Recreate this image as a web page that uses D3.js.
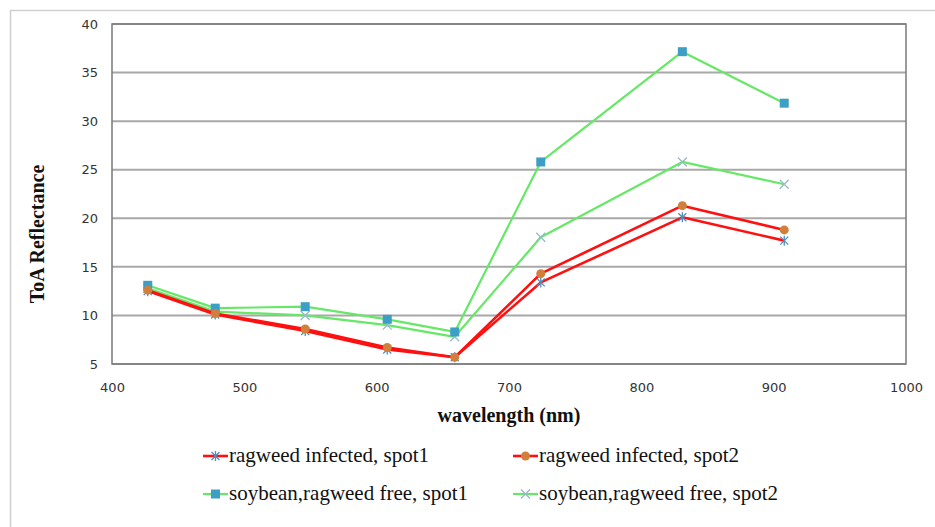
<!DOCTYPE html>
<html lang="en">
<head>
<meta charset="utf-8">
<script src="https://d3js.org/d3.v7.min.js"></script>
<style>
  body { margin: 0; background: #fff; }
  .tick text { font-family: 'DejaVu Sans', sans-serif; font-size: 13px; fill: #333; }
</style>
</head>
<body>
<div id="chart"></div>
<script>

// wavelength of each band (nm)
var wavelengths = [427, 478, 546, 608, 659, 724, 831, 908];

// ToA reflectance per series
var ragweedSpot1 = [12.5, 10.1, 8.4, 6.5, 5.7, 13.4, 20.1, 17.7];
var ragweedSpot2 = [12.6, 10.2, 8.6, 6.7, 5.7, 14.3, 21.3, 18.8];
var soySpot1     = [13.1, 10.75, 10.9, 9.6, 8.3, 25.8, 37.15, 31.85];
var soySpot2     = [12.8, 10.4, 10.0, 9.0, 7.8, 18.05, 25.8, 23.5];

var seriesNames = ['ragweed infected, spot1', 'ragweed infected, spot2',
                   'soybean,ragweed free, spot1', 'soybean,ragweed free, spot2'];

var xTicks = [400, 500, 600, 700, 800, 900, 1000];
var yTicks = [5, 10, 15, 20, 25, 30, 35, 40];

var width = 935, height = 527;
var plot = {left: 112, top: 24, right: 906, bottom: 364};
var serif = "'Liberation Serif', 'Times New Roman', serif";

var series = [
  {name: seriesNames[0], values: ragweedSpot1, line: '#ff1010', lw: 2.6, marker: 'star',   mcol: '#4f8fc0'},
  {name: seriesNames[1], values: ragweedSpot2, line: '#ff1010', lw: 2.6, marker: 'circle', mcol: '#d0803c'},
  {name: seriesNames[2], values: soySpot1,     line: '#66e866', lw: 2.2, marker: 'square', mcol: '#3e9fc6'},
  {name: seriesNames[3], values: soySpot2,     line: '#66e866', lw: 2.2, marker: 'cross',  mcol: '#9bb8cc'}
];

var x = d3.scaleLinear().domain([400, 1000]).range([plot.left, plot.right]);
var y = d3.scaleLinear().domain([5, 40]).range([plot.bottom, plot.top]);

var svg = d3.select('#chart').append('svg')
  .attr('width', width)
  .attr('height', height);

// outer chart border
svg.append('rect')
  .attr('x', 10.5).attr('y', 10.5)
  .attr('width', 940).attr('height', 540)
  .attr('fill', 'none')
  .attr('stroke', '#cfcfcf')
  .attr('stroke-width', 1.5);

// gridlines
svg.append('g')
  .selectAll('line')
  .data(yTicks)
  .enter().append('line')
  .attr('x1', plot.left).attr('x2', plot.right)
  .attr('y1', function(d) { return y(d); })
  .attr('y2', function(d) { return y(d); })
  .attr('stroke', '#a8a8a8')
  .attr('stroke-width', 2);

// plot frame
svg.append('rect')
  .attr('x', plot.left).attr('y', plot.top)
  .attr('width', plot.right - plot.left)
  .attr('height', plot.bottom - plot.top)
  .attr('fill', 'none')
  .attr('stroke', '#7a7a7a')
  .attr('stroke-width', 1.5);

// axes (labels only)
var xAxis = svg.append('g')
  .attr('transform', 'translate(0,' + plot.bottom + ')')
  .call(d3.axisBottom(x).tickValues(xTicks).tickFormat(d3.format('d')).tickSize(0).tickPadding(19));
xAxis.select('.domain').remove();

var yAxis = svg.append('g')
  .attr('transform', 'translate(' + plot.left + ',0)')
  .call(d3.axisLeft(y).tickValues(yTicks).tickSize(0).tickPadding(14));
yAxis.select('.domain').remove();

// axis titles
svg.append('text')
  .attr('x', (plot.left + plot.right) / 2)
  .attr('y', 422)
  .attr('text-anchor', 'middle')
  .attr('font-family', serif)
  .attr('font-weight', 'bold')
  .attr('font-size', 20)
  .attr('fill', '#111')
  .text('wavelength (nm)');

svg.append('text')
  .attr('transform', 'translate(44,' + 234 + ') rotate(-90)')
  .attr('text-anchor', 'middle')
  .attr('font-family', serif)
  .attr('font-weight', 'bold')
  .attr('font-size', 20)
  .attr('fill', '#111')
  .text('ToA Reflectance');

var line = d3.line()
  .x(function(d, i) { return x(wavelengths[i]); })
  .y(function(d) { return y(d); });

//draw a marker of a given kind centred on cx, cy
function drawMarker(g, kind, col, cx, cy) {
  if (kind === 'square') {
    g.append('rect')
      .attr('x', cx - 4.5).attr('y', cy - 4.5)
      .attr('width', 9).attr('height', 9)
      .attr('fill', col);
  } else if (kind === 'circle') {
    g.append('circle')
      .attr('cx', cx).attr('cy', cy).attr('r', 4.5)
      .attr('fill', col);
  } else if (kind === 'cross') {
    g.append('path')
      .attr('d', 'M' + (cx - 4.5) + ',' + (cy - 4.5) + 'L' + (cx + 4.5) + ',' + (cy + 4.5) +
                 'M' + (cx - 4.5) + ',' + (cy + 4.5) + 'L' + (cx + 4.5) + ',' + (cy - 4.5))
      .attr('stroke', col).attr('stroke-width', 1.3);
  } else {
    g.append('path')
      .attr('d', 'M' + (cx - 4) + ',' + (cy - 4) + 'L' + (cx + 4) + ',' + (cy + 4) +
                 'M' + (cx - 4) + ',' + (cy + 4) + 'L' + (cx + 4) + ',' + (cy - 4) +
                 'M' + cx + ',' + (cy - 5) + 'L' + cx + ',' + (cy + 5))
      .attr('stroke', col).attr('stroke-width', 1.3);
  }
}

// draw series back to front: soybean first, ragweed on top
var order = [3, 2, 0, 1];
order.forEach(function(k) {
  var s = series[k];
  var g = svg.append('g');
  g.append('path')
    .datum(s.values)
    .attr('d', line)
    .attr('fill', 'none')
    .attr('stroke', s.line)
    .attr('stroke-width', s.lw)
    .attr('stroke-linejoin', 'round');
  s.values.forEach(function(v, i) {
    drawMarker(g, s.marker, s.mcol, x(wavelengths[i]), y(v));
  });
});

// legend
var legendPos = [[203, 456], [513, 456], [203, 494], [513, 494]];
var legend = svg.append('g');
series.forEach(function(s, i) {
  var p = legendPos[i];
  var g = legend.append('g');
  g.append('line')
    .attr('x1', p[0]).attr('x2', p[0] + 25)
    .attr('y1', p[1]).attr('y2', p[1])
    .attr('stroke', s.line).attr('stroke-width', s.lw);
  drawMarker(g, s.marker, s.mcol, p[0] + 12.5, p[1]);
  g.append('text')
    .attr('x', p[0] + 26)
    .attr('y', p[1] + 6)
    .attr('font-family', serif)
    .attr('font-size', 21)
    .attr('fill', '#111')
    .text(s.name);
});

</script>
</body>
</html>
